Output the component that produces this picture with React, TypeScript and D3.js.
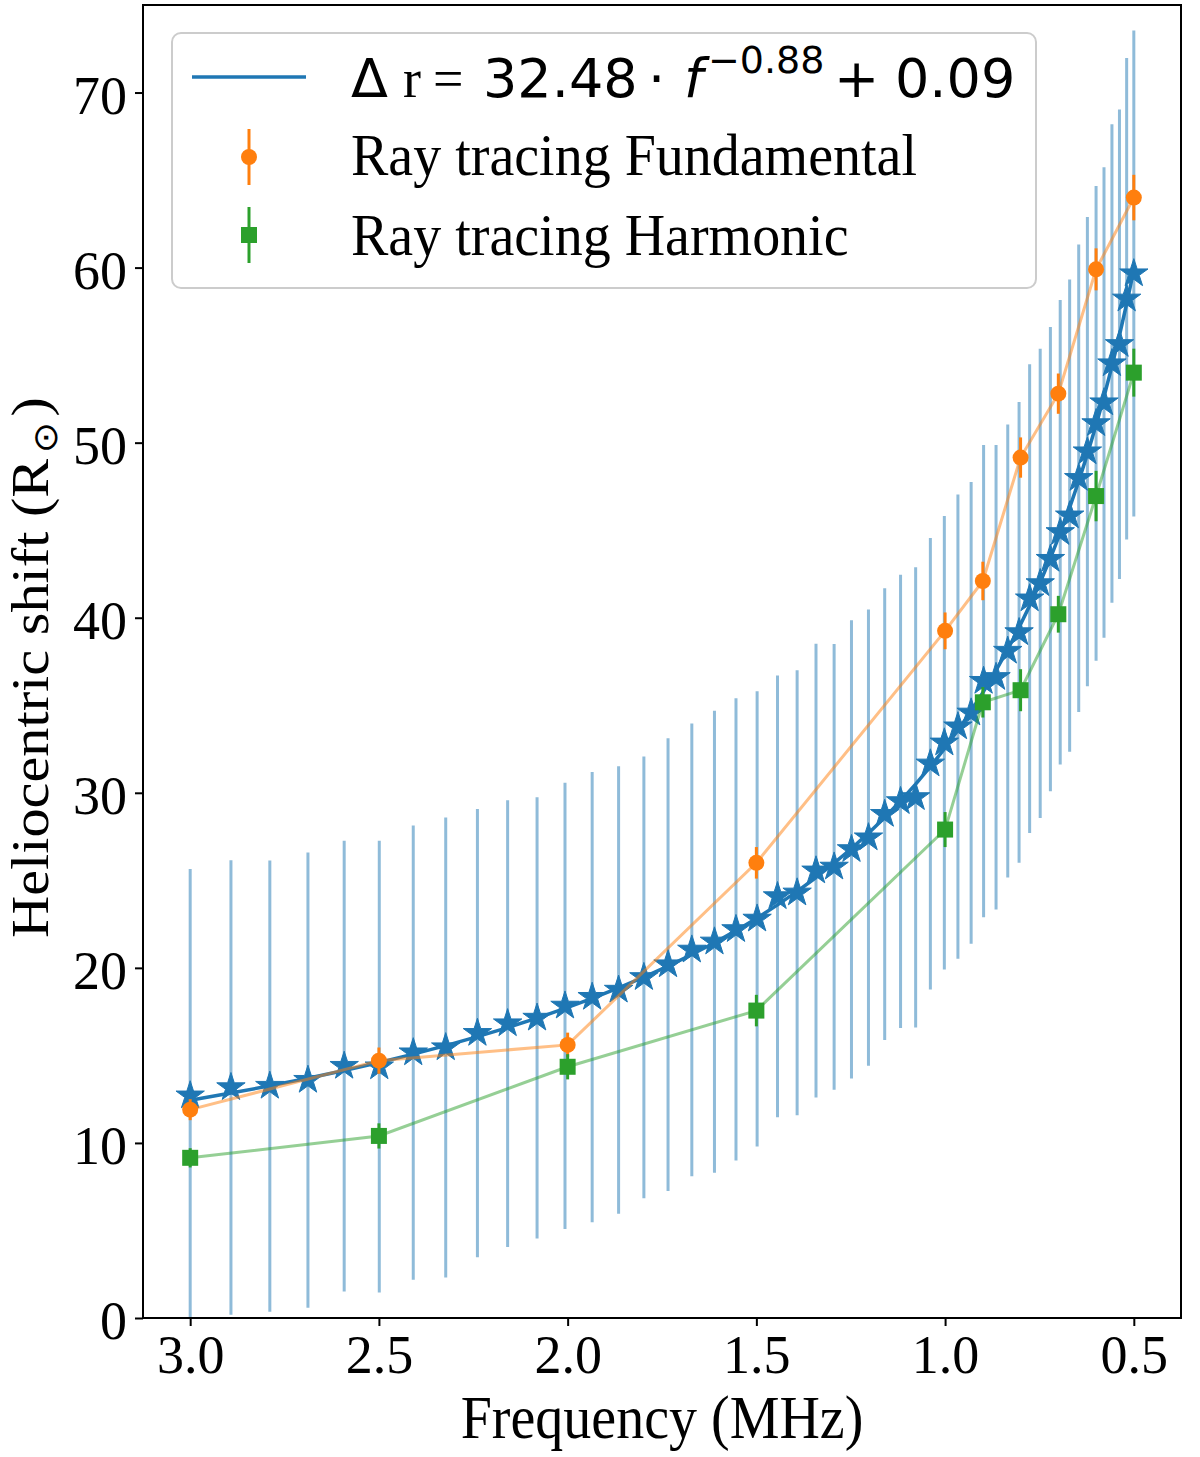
import React, { useRef, useEffect } from 'react';
import * as d3 from 'd3';

// star data: frequency (MHz), heliocentric shift (Rsun) and symmetric error
const freqs = [
  3.0, 2.892, 2.789, 2.688, 2.592, 2.499, 2.409, 2.323, 2.239, 2.159,
  2.081, 2.007, 1.935, 1.865, 1.798, 1.734, 1.671, 1.611, 1.554, 1.498,
  1.444, 1.392, 1.342, 1.294, 1.248, 1.203, 1.160, 1.118, 1.078, 1.039,
  1.002, 0.966, 0.931, 0.898, 0.865, 0.834, 0.804, 0.776, 0.748, 0.721,
  0.695, 0.670, 0.646, 0.623, 0.600, 0.579, 0.558, 0.538, 0.519, 0.500
];
const shifts = [
  12.7, 13.17, 13.25, 13.59, 14.39, 14.36, 15.16, 15.45, 16.27, 16.82,
  17.14, 17.83, 18.33, 18.74, 19.46, 20.19, 21.03, 21.49, 22.2, 22.8,
  24.08, 24.29, 25.55, 25.77, 26.77, 27.44, 28.78, 29.51, 29.74, 31.66,
  32.86, 33.78, 34.57, 36.38, 36.6, 38.1, 39.16, 41.09, 41.96, 43.35,
  44.88, 45.83, 47.97, 49.49, 51.1, 52.29, 54.52, 55.62, 58.22, 59.66
];
const shiftErr = [
  12.95, 12.98, 12.89, 13.0, 12.87, 12.9, 12.97, 13.14, 12.8, 12.76,
  12.6, 12.74, 12.86, 12.78, 12.62, 12.93, 12.93, 13.2, 13.2, 13.0,
  12.62, 12.71, 12.96, 12.73, 13.09, 13.03, 12.9, 12.95, 13.14, 12.9,
  12.95, 13.26, 13.19, 13.49, 13.27, 12.94, 13.16, 13.39, 13.4, 13.26,
  13.27, 13.49, 13.35, 13.4, 13.56, 13.44, 13.67, 13.41, 13.75, 13.88
];

// ray tracing results
const rtFreqs = [3.0, 2.5, 2.0, 1.5, 1.0, 0.9, 0.8, 0.7, 0.6, 0.5];
const fundamental = [11.9, 14.7, 15.6, 26.0, 39.25, 42.1, 49.15, 52.8, 59.9, 64.0];
const fundamentalErr = [0.6, 0.75, 0.7, 0.9, 1.05, 1.1, 1.15, 1.15, 1.2, 1.3];
const harmonic = [9.15, 10.4, 14.35, 17.56, 27.9, 35.17, 35.86, 40.2, 46.95, 54.0];
const harmonicErr = [0.55, 0.72, 0.72, 0.9, 1.0, 0.87, 1.2, 1.05, 1.44, 1.37];

// fit parameters shown in the legend
const fitA = 32.48;
const fitB = -0.88;
const fitC = 0.09;

const xTicks = [3.0, 2.5, 2.0, 1.5, 1.0, 0.5];
const yTicks = [0, 10, 20, 30, 40, 50, 60, 70];

const BLUE = '#1f77b4';
const ORANGE = '#ff7f0e';
const GREEN = '#2ca02c';
const SERIF = '"Liberation Serif", "Times New Roman", serif';
const SANS = '"DejaVu Sans", sans-serif';

const App: React.FC = () => {
  const svgRef = useRef<SVGSVGElement | null>(null);

  useEffect(() => {
    const width = 1200;
    const height = 1457;
    const left = 143, right = 1181, top = 5, bottom = 1318;

    const svg = d3.select(svgRef.current);
    svg.selectAll('*').remove();
    svg.attr('width', width).attr('height', height).style('background', '#fff');

    const x = d3.scaleLinear().domain([3.125, 0.375]).range([left, right]);
    const y = d3.scaleLinear().domain([0, 75]).range([bottom, top]);

    svg.append('defs').append('clipPath').attr('id', 'plot-clip')
      .append('rect')
      .attr('x', left).attr('y', top)
      .attr('width', right - left).attr('height', bottom - top);

    const plot = svg.append('g').attr('clip-path', 'url(#plot-clip)');

    const stars = freqs.map((f, i) => ({ f, v: shifts[i], e: shiftErr[i] }));

    // blue error bars
    plot.append('g')
      .selectAll('line')
      .data(stars)
      .enter()
      .append('line')
      .attr('x1', d => x(d.f)).attr('x2', d => x(d.f))
      .attr('y1', d => y(d.v - d.e)).attr('y2', d => y(d.v + d.e))
      .attr('stroke', BLUE).attr('stroke-opacity', 0.5).attr('stroke-width', 3);

    // fit line
    const fitLine = d3.line<number>()
      .x(f => x(f))
      .y(f => y(fitA * Math.pow(f, fitB) + fitC));
    plot.append('path')
      .attr('d', fitLine(freqs))
      .attr('fill', 'none').attr('stroke', BLUE).attr('stroke-width', 3.5)
      .attr('stroke-linejoin', 'round');

    // stars
    const starPath = d3.symbol(d3.symbolStar, 250)();
    plot.append('g')
      .selectAll('path')
      .data(stars)
      .enter()
      .append('path')
      .attr('d', starPath)
      .attr('transform', d => `translate(${x(d.f)},${y(d.v)})`)
      .attr('fill', BLUE).attr('stroke', BLUE).attr('stroke-width', 1);

    // ray tracing series
    const drawSeries = (vals: number[], errs: number[], color: string, shape: 'circle' | 'square') => {
      const pts = rtFreqs.map((f, i) => ({ f, v: vals[i], e: errs[i] }));
      const g = plot.append('g');
      g.append('path')
        .attr('d', d3.line<{ f: number; v: number }>().x(d => x(d.f)).y(d => y(d.v))(pts))
        .attr('fill', 'none').attr('stroke', color).attr('stroke-opacity', 0.5)
        .attr('stroke-width', 3);
      g.selectAll('line.err')
        .data(pts)
        .enter()
        .append('line')
        .attr('x1', d => x(d.f)).attr('x2', d => x(d.f))
        .attr('y1', d => y(d.v - d.e)).attr('y2', d => y(d.v + d.e))
        .attr('stroke', color).attr('stroke-width', 3);
      if (shape === 'circle') {
        g.selectAll('circle')
          .data(pts)
          .enter()
          .append('circle')
          .attr('cx', d => x(d.f)).attr('cy', d => y(d.v)).attr('r', 8)
          .attr('fill', color);
      } else {
        g.selectAll('rect')
          .data(pts)
          .enter()
          .append('rect')
          .attr('x', d => x(d.f) - 8).attr('y', d => y(d.v) - 8)
          .attr('width', 16).attr('height', 16)
          .attr('fill', color);
      }
    };
    drawSeries(fundamental, fundamentalErr, ORANGE, 'circle');
    drawSeries(harmonic, harmonicErr, GREEN, 'square');

    // axes
    const xAxis = svg.append('g')
      .attr('transform', `translate(0,${bottom})`)
      .call(d3.axisBottom(x).tickValues(xTicks).tickFormat(d3.format('.1f'))
        .tickSize(8).tickPadding(9).tickSizeOuter(0));
    xAxis.select('.domain').remove();
    xAxis.selectAll('line').attr('stroke', '#000').attr('stroke-width', 2);
    xAxis.selectAll('text')
      .style('font-family', SERIF).style('font-size', '54px').attr('fill', '#000');

    const yAxis = svg.append('g')
      .attr('transform', `translate(${left},0)`)
      .call(d3.axisLeft(y).tickValues(yTicks).tickFormat(d3.format('d'))
        .tickSize(8).tickPadding(8).tickSizeOuter(0));
    yAxis.select('.domain').remove();
    yAxis.selectAll('line').attr('stroke', '#000').attr('stroke-width', 2);
    yAxis.selectAll('text')
      .attr('dy', '0.38em')
      .style('font-family', SERIF).style('font-size', '54px').attr('fill', '#000');

    // frame
    svg.append('rect')
      .attr('x', left).attr('y', top)
      .attr('width', right - left).attr('height', bottom - top)
      .attr('fill', 'none').attr('stroke', '#000').attr('stroke-width', 2);

    // axis labels (text in the reference is slightly stretched vertically)
    svg.append('text')
      .attr('transform', `translate(${(left + right) / 2},1438) scale(1,1.1)`)
      .attr('text-anchor', 'middle')
      .style('font-family', SERIF).style('font-size', '56px')
      .text('Frequency (MHz)');

    const yLabel = svg.append('text')
      .attr('transform', `translate(48,${(top + bottom) / 2 + 6}) rotate(-90) scale(1.1,1)`)
      .attr('text-anchor', 'middle')
      .style('font-family', SERIF).style('font-size', '53px');
    yLabel.append('tspan').text('Heliocentric shift (R');
    yLabel.append('tspan').style('font-family', SANS).style('font-size', '34px')
      .attr('dy', 9).attr('dx', 5).text('\u2299');
    yLabel.append('tspan').attr('dy', -9).attr('dx', 5).text(')');

    // legend
    const legend = svg.append('g');
    legend.append('rect')
      .attr('x', 172).attr('y', 33).attr('width', 864).attr('height', 255)
      .attr('rx', 9).attr('fill', '#fff').attr('fill-opacity', 0.8)
      .attr('stroke', '#cccccc').attr('stroke-width', 2);

    legend.append('line')
      .attr('x1', 192).attr('x2', 306).attr('y1', 77).attr('y2', 77)
      .attr('stroke', BLUE).attr('stroke-width', 3.5);

    const formula = legend.append('text').attr('y', 97).style('font-size', '54px');
    formula.append('tspan').attr('x', 351).style('font-family', SANS).text('\u0394');
    formula.append('tspan').attr('x', 403).style('font-family', SERIF).text('r');
    formula.append('tspan').attr('x', 433).style('font-family', SERIF).text('=');
    formula.append('tspan').attr('x', 483).style('font-family', SANS).text('32.48');
    formula.append('tspan').attr('x', 648).style('font-family', SANS).text('\u00b7');
    formula.append('tspan').attr('x', 684).style('font-family', SANS)
      .style('font-style', 'italic').text('f');
    formula.append('tspan').attr('x', 708).attr('y', 73).style('font-family', SANS)
      .style('font-size', '38px').text('\u22120.88');
    formula.append('tspan').attr('x', 834).attr('y', 97).style('font-family', SANS).text('+');
    formula.append('tspan').attr('x', 895).style('font-family', SANS).text('0.09');

    const rows = [
      { label: 'Ray tracing Fundamental', color: ORANGE, shape: 'circle', cy: 157, base: 175 },
      { label: 'Ray tracing Harmonic', color: GREEN, shape: 'square', cy: 235, base: 255 }
    ];
    rows.forEach(r => {
      legend.append('line')
        .attr('x1', 249).attr('x2', 249).attr('y1', r.cy - 28).attr('y2', r.cy + 28)
        .attr('stroke', r.color).attr('stroke-width', 3);
      if (r.shape === 'circle') {
        legend.append('circle').attr('cx', 249).attr('cy', r.cy).attr('r', 8).attr('fill', r.color);
      } else {
        legend.append('rect').attr('x', 241).attr('y', r.cy - 8)
          .attr('width', 16).attr('height', 16).attr('fill', r.color);
      }
      legend.append('text')
        .attr('transform', `translate(351,${r.base}) scale(1,1.07)`)
        .style('font-family', SERIF).style('font-size', '56px')
        .text(r.label);
    });
  }, []);

  return <svg ref={svgRef} style={{ position: 'absolute', left: 0, top: 0 }}></svg>;
};

export default App;
